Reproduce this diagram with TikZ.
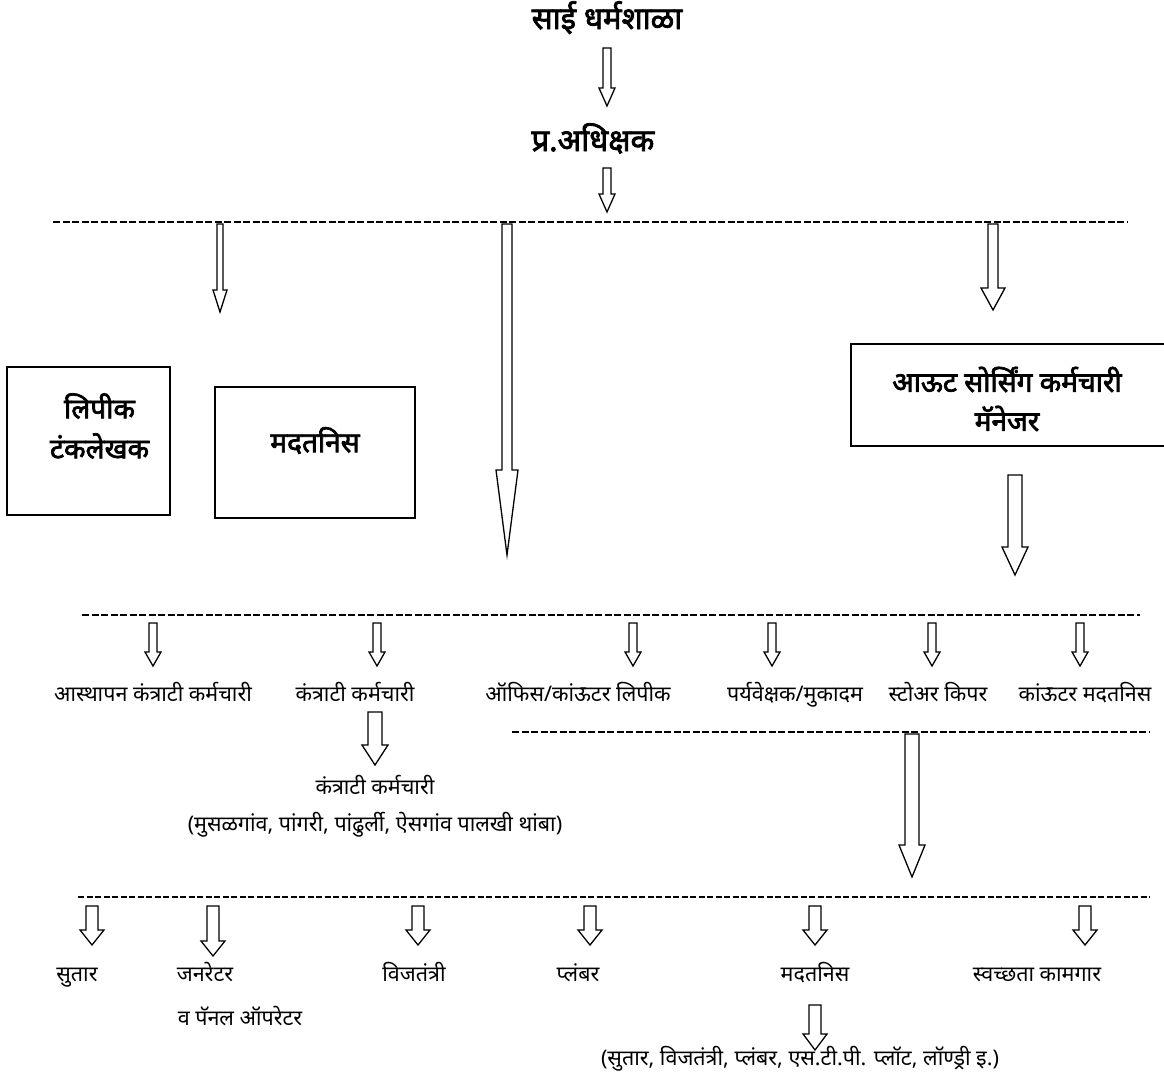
\documentclass[tikz,border=0pt]{standalone}
\usepackage{fontspec}
\setmainfont[Script=Devanagari]{Noto Sans}
\newfontfamily\gadd[Script=Devanagari, FakeBold=2.5]{Noto Sans}
\usetikzlibrary{calc, positioning}
\tikzstyle{mukhya} = [font=\gadd\fontsize{31}{36}\selectfont, inner sep=0pt, anchor=base]
\tikzstyle{padbox} = [draw, line width=2pt, rectangle]
\tikzstyle{boxtext} = [align=center, inner sep=0pt, font=\gadd\fontsize{28}{40}\selectfont]
\tikzstyle{pad} = [font=\fontsize{21.5}{37}\selectfont, inner sep=0pt, align=center, anchor=base]
\tikzstyle{resha} = [line width=2.8pt, dash pattern=on 7pt off 2.5pt]
\tikzstyle{baanrang} = [draw, line width=1.3pt, fill=white, line join=miter]
\newcommand{\baan}[5]{\draw[baanrang] let \p1=(#1), \p2=(#2) in
  (\x1-#3pt,\y1) -- (\x1-#3pt,\y2+#5pt) -- (\x1-#4pt,\y2+#5pt) -- (\x1,\y2) --
  (\x1+#4pt,\y2+#5pt) -- (\x1+#3pt,\y2+#5pt) -- (\x1+#3pt,\y1) -- cycle;}

\begin{document}
\begin{tikzpicture}[x=1pt, y=-1pt]
	\useasboundingbox (0,0) rectangle (1164,1076);
	\node[mukhya] (sai) at (607,29) {साई धर्मशाळा};
	\node[mukhya] (adhikshak) at (593,151) {प्र.अधिक्षक};
	\coordinate (sai-s) at (607,48);
	\coordinate (adh-n) at (607,106);
	\coordinate (adh-s) at (607,168);
	\coordinate (r1-n) at (607,212);
	\baan{sai-s}{adh-n}{4}{8}{18}
	\baan{adh-s}{r1-n}{4}{8}{18}

	\coordinate (r1-w) at (53,222);
	\coordinate (r1-e) at (1127,222);
	\draw[resha] (r1-w) -- (r1-e);
	\coordinate (r1-a) at (220,224);
	\coordinate (r1-b) at (507,224);
	\coordinate (r1-c) at (993,224);
	\coordinate (lip-t) at (220,312);
	\coordinate (r2-t) at (507,555);
	\coordinate (mgr-t) at (993,310);
	\baan{r1-a}{lip-t}{3}{7}{22}
	\baan{r1-b}{r2-t}{5}{11}{85}
	\baan{r1-c}{mgr-t}{5}{12}{22}

	\node[padbox, minimum width=163, minimum height=148] (lipik) at (88.5,441) {};
	\node[boxtext] (lipik-t) at ($(lipik.center)+(11,-15)$) {लिपीक\\टंकलेखक};
	\node[padbox, minimum width=200, minimum height=131] (madat) at (315,452.5) {};
	\node[boxtext] (madat-t) at ($(madat.center)+(0,-12)$) {मदतनिस};
	\node[padbox, minimum width=316, minimum height=102] (manager) at (1009,395) {};
	\node[boxtext, font=\gadd\fontsize{28}{39}\selectfont] (manager-t) at ($(manager.center)+(-2,4)$) {आऊट सोर्सिंग कर्मचारी\\मॅनेजर};
	\coordinate (mgr-s) at (1015,475);
	\coordinate (r3-t) at (1015,575);
	\baan{mgr-s}{r3-t}{7}{13}{28}

	\coordinate (r2-w) at (82,615);
	\coordinate (r2-e) at (1140,615);
	\draw[resha] (r2-w) -- (r2-e);
	\foreach \x/\naam in {153/asthapan, 377/kantrati, 633/office, 772/paryavekshak, 932/store, 1080/counter}{
		\coordinate (\naam-n) at (\x,623);
		\coordinate (\naam-t) at (\x,666);
		\baan{\naam-n}{\naam-t}{4}{8}{14}
	}
	\node[pad] (asthapan) at (153,701) {आस्थापन कंत्राटी कर्मचारी};
	\node[pad] (kantrati) at (355,701) {कंत्राटी कर्मचारी};
	\node[pad] (office) at (578,701) {ऑफिस/कांऊटर लिपीक};
	\node[pad] (paryavekshak) at (795,701) {पर्यवेक्षक/मुकादम};
	\node[pad] (store) at (938,701) {स्टोअर किपर};
	\node[pad] (counter) at (1085,701) {कांऊटर मदतनिस};

	\coordinate (kan-s) at (375,712);
	\coordinate (thamba-n) at (375,765);
	\baan{kan-s}{thamba-n}{7}{13}{20}
	\node[pad] (thamba) at (375,831) {कंत्राटी कर्मचारी\\(मुसळगांव, पांगरी, पांढुर्ली, ऐसगांव पालखी थांबा)};

	\coordinate (r3-w) at (512,732);
	\coordinate (r3-e) at (1150,732);
	\draw[resha] (r3-w) -- (r3-e);
	\coordinate (r3-a) at (912,734);
	\coordinate (r4-t) at (912,877);
	\baan{r3-a}{r4-t}{7}{13}{32}

	\coordinate (r4-w) at (78,897);
	\coordinate (r4-e) at (1150,897);
	\draw[resha, line width=1.4pt, dash pattern=on 6pt off 2.5pt] (r4-w) -- (r4-e);
	\foreach \x/\tip/\naam in {92/945/sutar, 213/956/generator, 418/945/vijtantri, 590/945/plumber, 815/945/madatnis, 1085/945/swachhata}{
		\coordinate (\naam-n) at (\x,906);
		\coordinate (\naam-t) at (\x,\tip);
		\baan{\naam-n}{\naam-t}{6}{12}{15}
	}
	\node[pad] (sutar) at (77,981) {सुतार};
	\node[pad] (generator) at (205,981) {जनरेटर};
	\node[pad] (panel) at (240,1025) {व पॅनल ऑपरेटर};
	\node[pad] (vijtantri) at (414,981) {विजतंत्री};
	\node[pad] (plumber) at (578,981) {प्लंबर};
	\node[pad] (madatnis) at (815,981) {मदतनिस};
	\node[pad] (swachhata) at (1037,981) {स्वच्छता कामगार};
	\coordinate (mad-s) at (815,1005);
	\coordinate (itar-n) at (815,1050);
	\baan{mad-s}{itar-n}{6}{12}{16}
	\node[pad] (itar) at (800,1065) {(सुतार, विजतंत्री, प्लंबर, एस.टी.पी. प्लॉट, लॉण्ड्री इ.)};
\end{tikzpicture}
\end{document}
